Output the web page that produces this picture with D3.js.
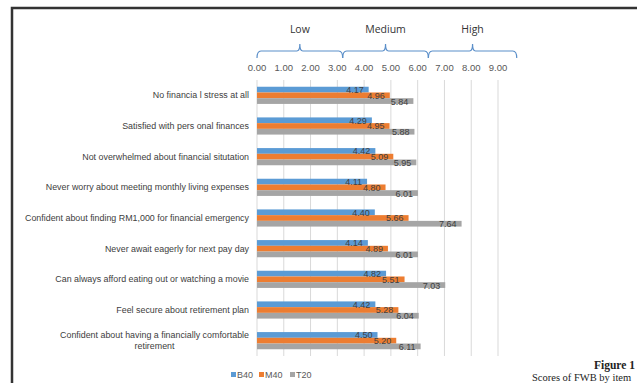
<!DOCTYPE html>
<head>
<script src="https://d3js.org/d3.v7.min.js"></script>
<style>
body { margin: 0; background: #fff; }
text { font-family: "Liberation Sans", Arial, sans-serif; }
</style>
</head>
<body>
<svg></svg>
<script>
var categories = [
  "No financia l stress at all",
  "Satisfied with pers onal finances",
  "Not overwhelmed  about financial situtation",
  "Never worry about meeting monthly living expenses",
  "Confident about finding RM1,000 for financial emergency",
  "Never await eagerly for next pay day",
  "Can always afford eating out or watching a movie",
  "Feel secure about retirement plan",
  "Confident about having a financially comfortable\nretirement"
];
var seriesNames = ["B40", "M40", "T20"];
var b40 = [4.17, 4.29, 4.42, 4.11, 4.40, 4.14, 4.82, 4.42, 4.50];
var m40 = [4.96, 4.95, 5.09, 4.80, 5.66, 4.89, 5.51, 5.28, 5.20];
var t20 = [5.84, 5.88, 5.95, 6.01, 7.64, 6.01, 7.03, 6.04, 6.11];
var ticks = [0, 1, 2, 3, 4, 5, 6, 7, 8, 9];
var levels = ["Low", "Medium", "High"];
var levelRanges = [[0, 3.2], [3.2, 6.4], [6.4, 9.7]];

var colors = ["#5b9bd5", "#ed7d31", "#a5a5a5"];
var width = 637, height = 383;

var svg = d3.select("svg").attr("width", width).attr("height", height);

// frame of the scanned figure
svg.append("path")
  .attr("d", "M12,383 L12,8 L637,8")
  .attr("fill", "none").attr("stroke", "#333").attr("stroke-width", 2.5);

var x = d3.scaleLinear().domain([0, 9]).range([257, 498]);
var y = d3.scaleBand().domain(categories).range([80, 356])
  .paddingInner(0.44).paddingOuter(0.22);
var ys = d3.scaleBand().domain(seriesNames).range([0, y.bandwidth()]);

var rows = categories.map(function(c, i) {
  return { cat: c, vals: [b40[i], m40[i], t20[i]] };
});

// gridlines
svg.append("g").selectAll("line").data(ticks).enter().append("line")
  .attr("x1", function(d) { return x(d); })
  .attr("x2", function(d) { return x(d); })
  .attr("y1", 80).attr("y2", 356)
  .attr("stroke", "#d9d9d9").attr("stroke-width", 1);

// top tick labels
svg.append("g").selectAll("text").data(ticks).enter().append("text")
  .attr("x", function(d) { return x(d); })
  .attr("y", 71)
  .attr("text-anchor", "middle")
  .style("font-size", "9.5px").style("fill", "#595959")
  .text(function(d) { return d3.format(".2f")(d); });

// braces for Low / Medium / High
var braces = svg.append("g");
levelRanges.forEach(function(r, i) {
  var x0 = x(r[0]), x1 = x(r[1]), m = (x0 + x1) / 2;
  braces.append("path")
    .attr("d", "M" + x0 + ",58 Q" + x0 + ",51 " + (x0 + 4) + ",51 L" + (m - 3) + ",51 Q" + m + ",51 " + m + ",44 Q" + m + ",51 " + (m + 3) + ",51 L" + (x1 - 4) + ",51 Q" + x1 + ",51 " + x1 + ",58")
    .attr("fill", "none").attr("stroke", "#5b8fc9").attr("stroke-width", 1.2);
  braces.append("text")
    .attr("x", m).attr("y", 33)
    .attr("text-anchor", "middle")
    .style("font-family", "'Open Sans', sans-serif")
    .style("font-size", "10.5px").style("fill", "#333")
    .text(levels[i]);
});

// bars
var groups = svg.append("g").selectAll("g").data(rows).enter().append("g")
  .attr("transform", function(d) { return "translate(0," + y(d.cat) + ")"; });

groups.selectAll("rect").data(function(d) { return d.vals; }).enter().append("rect")
  .attr("x", x(0))
  .attr("y", function(d, i) { return ys(seriesNames[i]); })
  .attr("width", function(d) { return x(d) - x(0); })
  .attr("height", ys.bandwidth())
  .attr("fill", function(d, i) { return colors[i]; });

groups.selectAll("text.val").data(function(d) { return d.vals; }).enter().append("text")
  .attr("class", "val")
  .attr("x", function(d) { return x(d) - 5; })
  .attr("y", function(d, i) { return ys(seriesNames[i]) + ys.bandwidth() / 2 + 3.5; })
  .attr("text-anchor", "end")
  .style("font-size", "9px").style("fill", "#404040")
  .text(function(d) { return d3.format(".2f")(d); });

// category labels (wrapped lines are centred on the widest one)
groups.each(function(d) {
  var lines = d.cat.split("\n");
  var t = d3.select(this).append("text")
    .style("font-size", "8.9px").style("fill", "#404040");
  var y0 = y.bandwidth() / 2 + 3 - (lines.length - 1) * 5.2;
  var spans = lines.map(function(l, k) {
    return t.append("tspan").attr("y", y0 + k * 10.5).text(l);
  });
  if (lines.length === 1) {
    t.attr("text-anchor", "end");
    spans[0].attr("x", 249);
  } else {
    var w = d3.max(spans, function(s) { return s.node().getComputedTextLength(); });
    t.attr("text-anchor", "middle");
    spans.forEach(function(s) { s.attr("x", 249 - w / 2); });
  }
});

// legend
var legend = svg.append("g").attr("transform", "translate(231,378)");
var lx = [0, 28, 59];
seriesNames.forEach(function(s, i) {
  legend.append("rect").attr("x", lx[i]).attr("y", -6).attr("width", 5).attr("height", 5).attr("fill", colors[i]);
  legend.append("text").attr("x", lx[i] + 6).attr("y", 0)
    .style("font-size", "9px").style("fill", "#595959").text(s);
});

// caption of the scanned page
svg.append("text").attr("x", 594).attr("y", 369)
  .style("font-family", "'Liberation Serif', serif").style("font-weight", "bold")
  .style("font-size", "11.5px").style("fill", "#222").text("Figure 1");
svg.append("text").attr("x", 532).attr("y", 381)
  .style("font-family", "'Liberation Serif', serif")
  .style("font-size", "10.5px").style("fill", "#222").text("Scores of FWB by item");
</script>
</body>
